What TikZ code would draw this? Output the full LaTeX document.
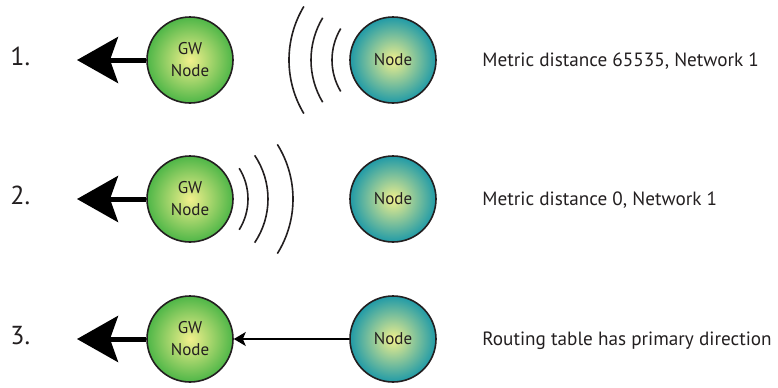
\documentclass[tikz,border=0pt]{standalone}
\usepackage{fontspec}
\setmainfont{PT Sans}
\usepackage{xcolor}
\usepackage{tikz}
\usetikzlibrary{positioning,arrows.meta}

\definecolor{gwgreen}{HTML}{48B445}
\definecolor{nodeteal}{HTML}{1897A8}
\definecolor{glow}{HTML}{F2F08C}
\definecolor{inkgray}{HTML}{231F20}

\pgfdeclareradialshading{gwball}{\pgfpoint{0bp}{0bp}}{color(0bp)=(glow); color(26bp)=(gwgreen); color(50bp)=(gwgreen)}
\pgfdeclareradialshading{tealball}{\pgfpoint{0bp}{0bp}}{color(0bp)=(glow); color(26bp)=(nodeteal); color(50bp)=(nodeteal)}

\tikzset{
  ball/.style={circle,draw=inkgray,line width=0.8pt,minimum size=43pt,inner sep=0pt,
    align=center,text=inkgray,font=\fontsize{8.5}{11}\selectfont},
  gwnode/.style={ball,shade,shading=gwball},
  meshnode/.style={ball,shade,shading=tealball},
  rowno/.style={anchor=base west,inner sep=0pt,text=inkgray,font=\fontsize{13}{14}\selectfont},
  caption/.style={anchor=base west,inner sep=0pt,text=inkgray,font=\fontsize{9.6}{11}\selectfont},
  bigarrow/.style={line width=2.5pt,-{Stealth[length=20.5pt,width=23pt,inset=4pt]}},
  thinarrow/.style={line width=0.65pt,-{Stealth[length=6pt,width=7pt,inset=1.5pt]}},
  wave/.style={line width=0.8pt,inkgray}
}

\begin{document}
\begin{tikzpicture}[x=0.5pt,y=0.5pt]
  \useasboundingbox (0,0) rectangle (778,-387);
  % 1. gateway silent, node hears nothing useful
  \node[rowno] (no1) at (10,-65) {1.};
  \node[gwnode] (gw1) at (190,-60) {GW\\Node};
  \node[meshnode] (nd1) at (393,-60) {Node};
  \coordinate (out1) at (77,-60);
  \draw[bigarrow] (gw1) -- (out1);
  \foreach \r in {61,82,104}
    \draw[wave] ([shift={(149:\r)}]nd1.center) arc[start angle=149,end angle=211,radius=\r];
  \node[caption] (txt1) at (482,-66) {Metric distance 65535, Network 1};
  % 2. gateway announces itself
  \node[rowno] (no2) at (10,-204) {2.};
  \node[gwnode] (gw2) at (190,-199) {GW\\Node};
  \node[meshnode] (nd2) at (393,-199) {Node};
  \coordinate (out2) at (77,-199);
  \draw[bigarrow] (gw2) -- (out2);
  \foreach \r/\a in {58/32,78/34,103/32}
    \draw[wave] ([shift={(-\a:\r)}]gw2.center) arc[start angle=-\a,end angle=\a,radius=\r];
  \node[caption] (txt2) at (482,-205) {Metric distance 0, Network 1};
  % 3. node routes towards gateway
  \node[rowno] (no3) at (10,-344) {3.};
  \node[gwnode] (gw3) at (190,-339) {GW\\Node};
  \node[meshnode] (nd3) at (393,-339) {Node};
  \coordinate (out3) at (77,-339);
  \draw[bigarrow] (gw3) -- (out3);
  \draw[thinarrow] (nd3) -- (gw3);
  \node[caption] (txt3) at (482,-345) {Routing table has primary direction};
\end{tikzpicture}
\end{document}
